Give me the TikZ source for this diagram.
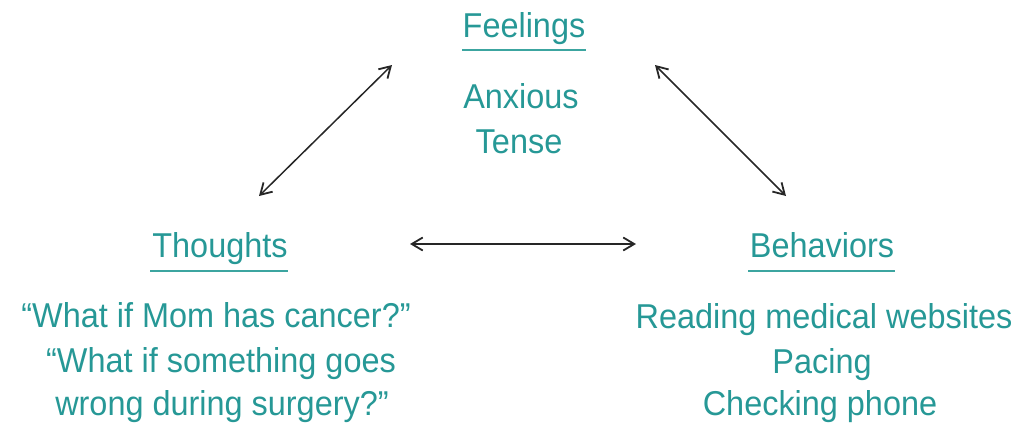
\documentclass[tikz,border=0pt]{standalone}
\usepackage{fontspec}
\setmainfont[FakeStretch=0.94]{Liberation Sans}
\usetikzlibrary{arrows.meta}
\definecolor{tealtext}{RGB}{38,152,150}
\definecolor{tealrule}{RGB}{60,165,160}
\begin{document}
\begin{tikzpicture}[x=1pt,y=-1pt,
  lbl/.style={anchor=base,inner sep=0pt,text=tealtext,font=\fontsize{34.5}{40}\selectfont},
  rule/.style={draw=tealrule,line width=1.6pt},
  link/.style={draw=black!85,line width=1.5pt,
    {Straight Barb[length=11pt,width=13pt,line width=1.8pt]}-{Straight Barb[length=11pt,width=13pt,line width=1.8pt]}}]
\useasboundingbox (0,0) rectangle (1021,429);
% headings
\node[lbl] (feel) at (524,37) {Feelings};
\node[lbl] (thou) at (220,257) {Thoughts};
\node[lbl] (beha) at (822,257) {Behaviors};
\draw[rule] (462,50) -- (586,50);
\draw[rule] (150,271) -- (288,271);
\draw[rule] (748,271) -- (895,271);
% feelings
\node[lbl] (f1) at (521,108) {Anxious};
\node[lbl] (f2) at (519,153) {Tense};
% thoughts
\node[lbl] (t1) at (216,327) {“What if Mom has cancer?”};
\node[lbl] (t2) at (221,372) {“What if something goes};
\node[lbl] (t3) at (222,415) {wrong during surgery?”};
% behaviors
\node[lbl] (b1) at (824,328) {Reading medical websites};
\node[lbl] (b2) at (822,373) {Pacing};
\node[lbl] (b3) at (820,415) {Checking phone};
% connectors
\coordinate (fl) at (392,65);
\coordinate (tl) at (259,196);
\coordinate (fr) at (655,65);
\coordinate (br) at (786,196);
\coordinate (th) at (410,244);
\coordinate (bh) at (636,244);
\draw[link] (tl) -- (fl);
\draw[link] (fr) -- (br);
\draw[link] (th) -- (bh);
\end{tikzpicture}
\end{document}
